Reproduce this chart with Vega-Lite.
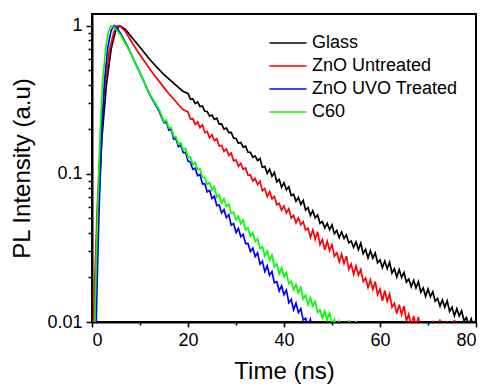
{
  "$schema": "https://vega.github.io/schema/vega-lite/v6.json",
  "width": 384,
  "height": 308,
  "autosize": {"type": "none"},
  "padding": {"left": 92, "top": 14, "right": 10, "bottom": 66},
  "background": "white",
  "config": {
    "view": {"stroke": "black", "strokeWidth": 2},
    "font": "Liberation Sans"
  },
  "datasets": {
    "glass": [{"t":0.4,"v":0.008},{"t":0.8,"v":0.02},{"t":1.3,"v":0.06},{"t":2.1,"v":0.18},{"t":3.0,"v":0.40},{"t":4.0,"v":0.70},{"t":4.9,"v":0.92},{"t":5.7,"v":1.0},{"t":6,"v":0.992},{"t":7,"v":0.94},{"t":8,"v":0.858},{"t":9,"v":0.783},{"t":10,"v":0.715},{"t":11,"v":0.652},{"t":12,"v":0.594},{"t":13,"v":0.547},{"t":14,"v":0.505},{"t":15,"v":0.467},{"t":16,"v":0.437},{"t":17,"v":0.41},{"t":18,"v":0.384},{"t":19,"v":0.36},
      {"t":20,"v":0.349},{"t":20.5,"v":0.3194},{"t":21,"v":0.321},{"t":21.5,"v":0.298},{"t":22,"v":0.3055},{"t":22.5,"v":0.2849},{"t":23,"v":0.2869},{"t":23.5,"v":0.2647},{"t":24,"v":0.2636},{"t":24.5,"v":0.2456},{"t":25,"v":0.2496},{"t":25.5,"v":0.2331},{"t":26,"v":0.2374},{"t":26.5,"v":0.217},{"t":27,"v":0.2177},{"t":27.5,"v":0.2006},{"t":28,"v":0.204},{"t":28.5,"v":0.1896},{"t":29,"v":0.1903},{"t":29.5,"v":0.1746},{"t":30,"v":0.1731},{"t":30.5,"v":0.1609},{"t":31,"v":0.163},{"t":31.5,"v":0.1516},{"t":32,"v":0.1538},{"t":32.5,"v":0.14},{"t":33,"v":0.1397},{"t":33.5,"v":0.1294},{"t":34,"v":0.1323},{"t":34.5,"v":0.123},
      {"t":35,"v":0.1269},{"t":35.5,"v":0.1106},{"t":36,"v":0.1124},{"t":36.5,"v":0.1008},{"t":37,"v":0.1074},{"t":37.5,"v":0.0962},{"t":38,"v":0.1024},{"t":38.5,"v":0.0883},{"t":39,"v":0.0917},{"t":39.5,"v":0.0811},{"t":40,"v":0.0873},{"t":40.5,"v":0.0782},{"t":41,"v":0.0818},{"t":41.5,"v":0.0714},{"t":42,"v":0.0728},{"t":42.5,"v":0.0652},{"t":43,"v":0.0693},{"t":43.5,"v":0.0621},{"t":44,"v":0.0661},{"t":44.5,"v":0.057},{"t":45,"v":0.0592},{"t":45.5,"v":0.0523},{"t":46,"v":0.0564},{"t":46.5,"v":0.0505},{"t":47,"v":0.0528},{"t":47.5,"v":0.0464},{"t":48,"v":0.0476},{"t":48.5,"v":0.0431},{"t":49,"v":0.0464},{"t":49.5,"v":0.042},
      {"t":50,"v":0.0452},{"t":50.5,"v":0.0395},{"t":51,"v":0.0414},{"t":51.5,"v":0.0371},{"t":52,"v":0.0405},{"t":52.5,"v":0.0367},{"t":53,"v":0.0387},{"t":53.5,"v":0.0342},{"t":54,"v":0.0352},{"t":54.5,"v":0.0319},{"t":55,"v":0.0347},{"t":55.5,"v":0.0308},{"t":56,"v":0.034},{"t":56.5,"v":0.0289},{"t":57,"v":0.0309},{"t":57.5,"v":0.0271},{"t":58,"v":0.0303},{"t":58.5,"v":0.027},{"t":59,"v":0.0292},{"t":59.5,"v":0.0251},{"t":60,"v":0.0262},{"t":60.5,"v":0.0233},{"t":61,"v":0.0258},{"t":61.5,"v":0.0229},{"t":62,"v":0.0253},{"t":62.5,"v":0.0214},{"t":63,"v":0.0229},{"t":63.5,"v":0.0201},{"t":64,"v":0.0226},{"t":64.5,"v":0.02},
      {"t":65,"v":0.0216},{"t":65.5,"v":0.0186},{"t":66,"v":0.0195},{"t":66.5,"v":0.0173},{"t":67,"v":0.0191},{"t":67.5,"v":0.017},{"t":68,"v":0.0187},{"t":68.5,"v":0.0159},{"t":69,"v":0.017},{"t":69.5,"v":0.0149},{"t":70,"v":0.0167},{"t":70.5,"v":0.0148},{"t":71,"v":0.016},{"t":71.5,"v":0.0138},{"t":72,"v":0.0144},{"t":72.5,"v":0.0128},{"t":73,"v":0.0141},{"t":73.5,"v":0.0126},{"t":74,"v":0.0139},{"t":74.5,"v":0.0118},{"t":75,"v":0.0126},{"t":75.5,"v":0.011},{"t":76,"v":0.0123},{"t":76.5,"v":0.011},{"t":77,"v":0.0119},{"t":77.5,"v":0.0102},{"t":78,"v":0.0107},{"t":78.5,"v":0.0095},{"t":79,"v":0.0105},{"t":79.5,"v":0.0093},{"t":80,"v":0.0103}],
    "untreated": [{"t":0.2,"v":0.008},{"t":0.6,"v":0.02},{"t":1.1,"v":0.06},{"t":1.8,"v":0.18},{"t":2.7,"v":0.4},{"t":3.7,"v":0.7},{"t":4.6,"v":0.92},{"t":5.4,"v":1.0},{"t":6,"v":0.984},{"t":7,"v":0.911},{"t":8,"v":0.804},{"t":9,"v":0.71},{"t":10,"v":0.637},{"t":11,"v":0.571},{"t":12,"v":0.512},{"t":13,"v":0.463},{"t":14,"v":0.421},{"t":15,"v":0.382},{"t":16,"v":0.347},{"t":17,"v":0.32},{"t":18,"v":0.294},{"t":19,"v":0.271},
      {"t":20,"v":0.2618},{"t":20.5,"v":0.2347},{"t":21,"v":0.2362},{"t":21.5,"v":0.2157},{"t":22,"v":0.2242},{"t":22.5,"v":0.2052},{"t":23,"v":0.2137},{"t":23.5,"v":0.1898},{"t":24,"v":0.1936},{"t":24.5,"v":0.1751},{"t":25,"v":0.1837},{"t":25.5,"v":0.1678},{"t":26,"v":0.1721},{"t":26.5,"v":0.1544},{"t":27,"v":0.1554},{"t":27.5,"v":0.1417},{"t":28,"v":0.1471},{"t":28.5,"v":0.1337},{"t":29,"v":0.1383},{"t":29.5,"v":0.1224},{"t":30,"v":0.1243},{"t":30.5,"v":0.1124},{"t":31,"v":0.1178},{"t":31.5,"v":0.1073},{"t":32,"v":0.1095},{"t":32.5,"v":0.0979},{"t":33,"v":0.0983},{"t":33.5,"v":0.0896},{"t":34,"v":0.093},{"t":34.5,"v":0.0848},
      {"t":35,"v":0.0893},{"t":35.5,"v":0.0769},{"t":36,"v":0.0796},{"t":36.5,"v":0.0703},{"t":37,"v":0.0757},{"t":37.5,"v":0.0677},{"t":38,"v":0.0705},{"t":38.5,"v":0.0618},{"t":39,"v":0.0632},{"t":39.5,"v":0.0569},{"t":40,"v":0.0607},{"t":40.5,"v":0.0545},{"t":41,"v":0.0582},{"t":41.5,"v":0.0504},{"t":42,"v":0.0525},{"t":42.5,"v":0.0466},{"t":43,"v":0.0504},{"t":43.5,"v":0.0454},{"t":44,"v":0.0476},{"t":44.5,"v":0.0417},
      {"t":45,"v":0.043},{"t":45.5,"v":0.0373},{"t":46,"v":0.0418},{"t":46.5,"v":0.0362},{"t":47,"v":0.0406},{"t":47.5,"v":0.0333},{"t":48,"v":0.036},{"t":48.5,"v":0.0307},{"t":49,"v":0.0351},{"t":49.5,"v":0.0304},{"t":50,"v":0.0333},{"t":50.5,"v":0.0278},{"t":51,"v":0.0293},{"t":51.5,"v":0.0255},{"t":52,"v":0.0287},{"t":52.5,"v":0.0248},{"t":53,"v":0.0278},{"t":53.5,"v":0.0227},{"t":54,"v":0.0246},{"t":54.5,"v":0.021},{"t":55,"v":0.0239},{"t":55.5,"v":0.0207},{"t":56,"v":0.0226},{"t":56.5,"v":0.0188},{"t":57,"v":0.0198},{"t":57.5,"v":0.0171},{"t":58,"v":0.0192},{"t":58.5,"v":0.0166},{"t":59,"v":0.0187},{"t":59.5,"v":0.0153},
      {"t":60,"v":0.0167},{"t":60.5,"v":0.0139},{"t":61,"v":0.0163},{"t":61.5,"v":0.0138},{"t":62,"v":0.0154},{"t":62.5,"v":0.0126},{"t":63,"v":0.0134},{"t":63.5,"v":0.0114},{"t":64,"v":0.0131},{"t":64.5,"v":0.0112},{"t":65,"v":0.0128},{"t":65.5,"v":0.0102},{"t":66,"v":0.0113},{"t":66.5,"v":0.0094},{"t":67,"v":0.011},{"t":67.5,"v":0.0094},{"t":68,"v":0.0108},{"t":68.5,"v":0.0083},{"t":69,"v":0.0091},{"t":69.5,"v":0.0075},{"t":70,"v":0.009},{"t":70.5,"v":0.0074},{"t":71,"v":0.0102},{"t":71.5,"v":0.0075},{"t":72,"v":0.0086},{"t":72.5,"v":0.0104},{"t":73,"v":0.007},{"t":73.5,"v":0.0088},{"t":74,"v":0.0101},{"t":74.5,"v":0.0068},{"t":75,"v":0.008},{"t":75.5,"v":0.0103},{"t":76,"v":0.0065},{"t":76.5,"v":0.01},{"t":77,"v":0.006}],
    "uvo": [{"t":0.8,"v":0.008},{"t":1.1,"v":0.02},{"t":1.5,"v":0.06},{"t":2.0,"v":0.18},{"t":2.6,"v":0.42},{"t":3.3,"v":0.72},{"t":4.0,"v":0.93},{"t":4.6,"v":1.0},{"t":5,"v":0.984},{"t":6,"v":0.883},{"t":7,"v":0.768},{"t":8,"v":0.662},{"t":9,"v":0.562},{"t":10,"v":0.478},{"t":11,"v":0.406},{"t":12,"v":0.344},{"t":13,"v":0.302},{"t":14,"v":0.264},
      {"t":15,"v":0.2214},{"t":15.5,"v":0.2237},{"t":16,"v":0.1974},{"t":16.5,"v":0.2001},{"t":17,"v":0.1724},{"t":17.5,"v":0.1727},{"t":18,"v":0.1527},{"t":18.5,"v":0.1567},{"t":19,"v":0.1394},{"t":19.5,"v":0.1397},{"t":20,"v":0.1219},{"t":20.5,"v":0.1203},{"t":21,"v":0.1073},{"t":21.5,"v":0.1092},{"t":22,"v":0.0972},{"t":22.5,"v":0.099},{"t":23,"v":0.0857},{"t":23.5,"v":0.0857},{"t":24,"v":0.0756},{"t":24.5,"v":0.0774},
      {"t":25,"v":0.0683},{"t":25.5,"v":0.0706},{"t":26,"v":0.061},{"t":26.5,"v":0.0616},{"t":27,"v":0.0545},{"t":27.5,"v":0.0573},{"t":28,"v":0.0506},{"t":28.5,"v":0.0531},{"t":29,"v":0.0451},{"t":29.5,"v":0.0462},{"t":30,"v":0.0402},{"t":30.5,"v":0.0428},{"t":31,"v":0.0377},{"t":31.5,"v":0.0391},{"t":32,"v":0.0338},{"t":32.5,"v":0.0339},{"t":33,"v":0.0299},{"t":33.5,"v":0.0315},{"t":34,"v":0.0277},{"t":34.5,"v":0.0293},
      {"t":35,"v":0.0246},{"t":35.5,"v":0.0257},{"t":36,"v":0.0219},{"t":36.5,"v":0.0239},{"t":37,"v":0.0207},{"t":37.5,"v":0.0219},{"t":38,"v":0.0184},{"t":38.5,"v":0.0187},{"t":39,"v":0.0162},{"t":39.5,"v":0.0175},{"t":40,"v":0.0153},{"t":40.5,"v":0.0164},{"t":41,"v":0.0135},{"t":41.5,"v":0.0142},{"t":42,"v":0.0121},{"t":42.5,"v":0.0134},{"t":43,"v":0.0116},{"t":43.5,"v":0.0123},{"t":44,"v":0.0103},{"t":44.5,"v":0.0106},{"t":45,"v":0.0093},{"t":45.5,"v":0.0104},{"t":46,"v":0.0086},{"t":46.5,"v":0.0099},{"t":47,"v":0.0078},{"t":47.5,"v":0.0092},{"t":48,"v":0.007}],
    "c60": [{"t":0.5,"v":0.008},{"t":0.8,"v":0.02},{"t":1.2,"v":0.06},{"t":1.7,"v":0.19},{"t":2.2,"v":0.42},{"t":2.9,"v":0.72},{"t":3.5,"v":0.93},{"t":4.0,"v":1.0},{"t":4.5,"v":0.984},{"t":5,"v":0.947},{"t":6,"v":0.863},{"t":7,"v":0.756},{"t":8,"v":0.662},{"t":9,"v":0.562},{"t":10,"v":0.478},{"t":11,"v":0.408},{"t":12,"v":0.347},{"t":13,"v":0.306},{"t":14,"v":0.271},
      {"t":15,"v":0.2252},{"t":15.5,"v":0.2304},{"t":16,"v":0.2042},{"t":16.5,"v":0.2049},{"t":17,"v":0.179},{"t":17.5,"v":0.1772},{"t":18,"v":0.1584},{"t":18.5,"v":0.162},{"t":19,"v":0.1449},{"t":19.5,"v":0.1483},{"t":20,"v":0.1291},{"t":20.5,"v":0.1299},{"t":21,"v":0.1155},{"t":21.5,"v":0.1194},{"t":22,"v":0.107},{"t":22.5,"v":0.108},{"t":23,"v":0.095},{"t":23.5,"v":0.0945},{"t":24,"v":0.085},{"t":24.5,"v":0.0873},
      {"t":25,"v":0.0777},{"t":25.5,"v":0.0819},{"t":26,"v":0.0697},{"t":26.5,"v":0.0721},{"t":27,"v":0.0632},{"t":27.5,"v":0.0678},{"t":28,"v":0.0603},{"t":28.5,"v":0.0626},{"t":29,"v":0.0543},{"t":29.5,"v":0.055},{"t":30,"v":0.0489},{"t":30.5,"v":0.0518},{"t":31,"v":0.0461},{"t":31.5,"v":0.0488},{"t":32,"v":0.0419},{"t":32.5,"v":0.0433},{"t":33,"v":0.038},{"t":33.5,"v":0.0401},{"t":34,"v":0.0351},{"t":34.5,"v":0.0365},
      {"t":35,"v":0.0313},{"t":35.5,"v":0.0321},{"t":36,"v":0.0279},{"t":36.5,"v":0.0302},{"t":37,"v":0.0262},{"t":37.5,"v":0.0284},{"t":38,"v":0.0236},{"t":38.5,"v":0.0247},{"t":39,"v":0.0211},{"t":39.5,"v":0.0232},{"t":40,"v":0.0202},{"t":40.5,"v":0.0215},{"t":41,"v":0.0182},{"t":41.5,"v":0.0188},{"t":42,"v":0.0165},{"t":42.5,"v":0.0179},{"t":43,"v":0.0157},{"t":43.5,"v":0.0171},{"t":44,"v":0.0143},{"t":44.5,"v":0.0152},{"t":45,"v":0.0131},{"t":45.5,"v":0.0146},{"t":46,"v":0.0128},{"t":46.5,"v":0.0137},{"t":47,"v":0.0116},{"t":47.5,"v":0.0121},
      {"t":48,"v":0.0106},{"t":48.5,"v":0.0119},{"t":49,"v":0.0103},{"t":49.5,"v":0.0116},{"t":50,"v":0.0096},{"t":50.5,"v":0.0104},{"t":51,"v":0.0088},{"t":51.5,"v":0.0101},{"t":52,"v":0.0088},{"t":52.5,"v":0.0097},{"t":53,"v":0.008},{"t":53.5,"v":0.0103},{"t":54,"v":0.0076},{"t":54.5,"v":0.009},{"t":55,"v":0.0102},{"t":55.5,"v":0.007},{"t":56,"v":0.0065}]
  },
  "encoding": {
    "x": {
      "field": "t", "type": "quantitative",
      "scale": {"domain": [0, 80], "nice": false},
      "axis": {
        "title": "Time (ns)",
        "values": [0, 10, 20, 30, 40, 50, 60, 70, 80],
        "labelExpr": "datum.value % 20 == 0 ? datum.label : ''",
        "grid": false,
        "domainColor": "black", "domainWidth": 2,
        "tickColor": "black", "tickWidth": 1.5,
        "tickSize": {"condition": {"test": "datum.value % 20 == 0", "value": 5}, "value": 3},
        "labelFont": "Liberation Sans", "labelFontSize": 18, "labelColor": "black", "labelPadding": 4,
        "titleFont": "Liberation Sans", "titleFontSize": 24, "titleFontWeight": "normal", "titleColor": "black", "titlePadding": 10
      }
    },
    "y": {
      "field": "v", "type": "quantitative",
      "scale": {"type": "log", "domain": [0.01, 1.2], "nice": false},
      "axis": {
        "title": "PL Intensity (a.u)",
        "values": [0.01, 0.02, 0.03, 0.04, 0.05, 0.06, 0.07, 0.08, 0.09, 0.1, 0.2, 0.3, 0.4, 0.5, 0.6, 0.7, 0.8, 0.9, 1],
        "labelExpr": "datum.value == 1 ? '1' : datum.value == 0.1 ? '0.1' : datum.value == 0.01 ? '0.01' : ''",
        "grid": false,
        "domainColor": "black", "domainWidth": 2,
        "tickColor": "black", "tickWidth": 1.5,
        "tickSize": {"condition": {"test": "datum.value == 1 || datum.value == 0.1 || datum.value == 0.01", "value": 6}, "value": 4},
        "labelFont": "Liberation Sans", "labelFontSize": 18, "labelColor": "black", "labelPadding": 4,
        "titleFont": "Liberation Sans", "titleFontSize": 24, "titleFontWeight": "normal", "titleColor": "black", "titlePadding": 12
      }
    },
    "color": {
      "type": "nominal",
      "scale": {"domain": ["Glass", "ZnO Untreated", "ZnO UVO Treated", "C60"], "range": ["#000000", "#ff0000", "#0000ff", "#00ff00"]},
      "legend": {
        "title": null, "orient": "none", "legendX": 186, "legendY": 19,
        "padding": 0, "symbolType": "M-2,0H2", "symbolSize": 342, "symbolStrokeWidth": 1.5, "symbolFillColor": "transparent",
        "labelFont": "Liberation Sans", "labelFontSize": 18, "labelColor": "black", "labelOffset": 14,
        "rowPadding": 4
      }
    }
  },
  "layer": [
    {"data": {"name": "glass"}, "encoding": {"color": {"datum": "Glass"}}, "mark": {"type": "line", "strokeWidth": 1.7, "clip": true}},
    {"data": {"name": "untreated"}, "encoding": {"color": {"datum": "ZnO Untreated"}}, "mark": {"type": "line", "strokeWidth": 1.7, "clip": true}},
    {"data": {"name": "uvo"}, "encoding": {"color": {"datum": "ZnO UVO Treated"}}, "mark": {"type": "line", "strokeWidth": 1.7, "clip": true}},
    {"data": {"name": "c60"}, "encoding": {"color": {"datum": "C60"}}, "mark": {"type": "line", "strokeWidth": 1.7, "clip": true}}
  ]
}
